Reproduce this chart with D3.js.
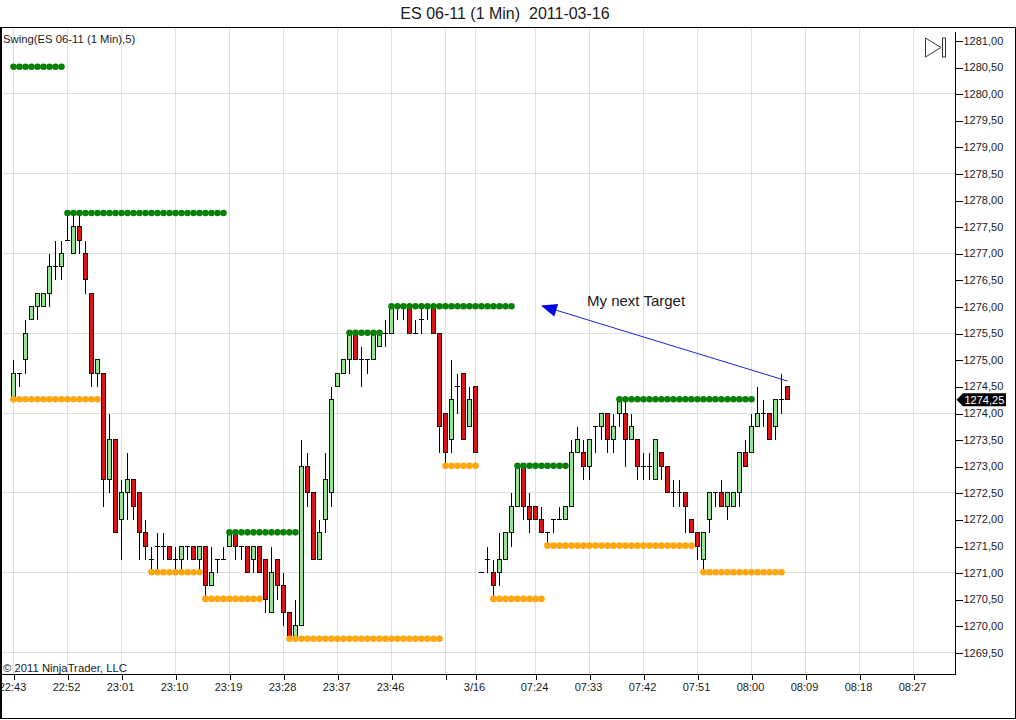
<!DOCTYPE html>
<html><head><meta charset="utf-8">
<script src="https://cdn.jsdelivr.net/npm/d3@7"></script>
<style>
html,body{margin:0;padding:0;background:#fff}
svg{display:block}
text{font-family:"Liberation Sans",Arial,sans-serif;fill:#1a1a1a;white-space:pre}
.axis path{display:none}
</style></head><body>
<script>
const opens=[1274.25,1274.75,1275,1275.75,1276,1276,1276.25,1276.75,1276.75,1277.25,1277,1277.5,1277,1276.25,1274.75,1274.75,1272.75,1273.5,1272,1272.5,1272.75,1272.5,1271.75,1271.25,1271.5,1271.5,1271.5,1271.25,1271.25,1271.5,1271.5,1271.25,1271.5,1270.75,1271.25,1271.25,1271.5,1271.75,1271.5,1271.5,1271.25,1271.5,1271.25,1270.25,1271.25,1270.75,1270.25,1269.75,1270,1273,1272.5,1271.25,1272,1272.5,1274.5,1274.75,1275,1275.5,1275,1275,1275,1275.25,1275.5,1275.5,1276,1276,1276,1275.5,1275.75,1276,1276,1275.5,1274,1273.5,1274.5,1274.75,1273.75,1274.5,1271,1271.25,1271,1271,1271.25,1271.75,1272.25,1273,1272.25,1272.25,1272,1271.75,1272,1272,1272,1272.25,1273.25,1273.25,1273,1273.75,1273.75,1274,1273.5,1274,1274,1273.5,1273.5,1273,1273,1272.75,1273.25,1273,1272.5,1272.5,1272.5,1272,1271.75,1271.25,1272,1272.5,1272.5,1272.25,1272.25,1272.5,1273.25,1273.25,1273.75,1274,1274,1273.75,1274.25,1274.5];
const highs=[1275,1274.75,1275.75,1276,1276.25,1276.25,1277,1277.25,1277.25,1277.75,1277.75,1277.75,1277.25,1276.25,1275,1274.75,1274,1273.5,1272.75,1273.25,1272.75,1272.5,1272,1271.5,1271.75,1271.75,1271.5,1271.5,1271.5,1271.5,1271.5,1271.5,1271.5,1271.5,1271.25,1271.5,1271.75,1271.75,1271.5,1271.5,1271.5,1271.5,1271.25,1271.5,1271.25,1271,1270.25,1270.5,1273.5,1273.25,1272.5,1272,1273.25,1274.5,1274.75,1275,1275.5,1275.5,1275.25,1275,1275.5,1275.5,1275.75,1276,1276,1276,1276,1275.75,1276,1276,1276,1275.5,1274,1275,1274.75,1274.75,1274.5,1274.5,1271,1271.5,1271.25,1271.75,1271.75,1272.5,1273,1273,1272.5,1272.25,1272.25,1271.75,1272,1272.25,1272.25,1273.5,1273.75,1273.5,1273.5,1273.75,1274,1274,1274,1274.25,1274.25,1274,1273.5,1273.25,1273.25,1273.5,1273.25,1273,1272.75,1272.75,1272.5,1272,1271.75,1271.75,1272.5,1272.5,1272.75,1272.5,1272.5,1273.25,1273.5,1274,1274.5,1274.25,1274,1274.25,1274.75,1274.5];
const lows=[1274.25,1274.5,1274.75,1275.75,1275.75,1276,1276,1276.5,1276.5,1277.25,1277,1277,1276.25,1274.5,1274.5,1272.25,1272.5,1271.75,1271.25,1272,1272,1271.25,1271.25,1271,1271,1271.25,1271.25,1271,1271,1271.25,1271.25,1271,1270.5,1270.75,1271,1271.25,1271.5,1271.25,1271.25,1271,1271,1271,1270.25,1270.25,1270.5,1270,1269.75,1269.75,1270,1272.25,1271.25,1271.25,1271.75,1272.25,1274.5,1274.75,1274.75,1275,1274.5,1274.75,1275,1275.25,1275.25,1275.5,1275.75,1275.75,1275.5,1275.5,1275.5,1275.75,1275.5,1273.25,1273,1273.25,1274,1273.5,1273.75,1273.25,1271,1271,1270.5,1270.75,1271.25,1271.5,1272.25,1272,1271.75,1272,1271.75,1271.5,1271.75,1272,1272,1272.25,1273.25,1272.75,1272.75,1273.25,1273.5,1273.25,1273.25,1273.75,1273,1273.5,1272.75,1272.75,1272.75,1272.75,1272.75,1272.5,1272.25,1272.25,1271.75,1271.75,1271.25,1271,1271.75,1272.25,1272.25,1272,1272.25,1272.25,1273,1273.25,1273.75,1273.75,1273.5,1273.5,1274,1274.25];
const closes=[1274.75,1274.75,1275.5,1276,1276.25,1276.25,1276.75,1276.75,1277,1277.25,1277.5,1277.25,1276.5,1274.75,1275,1272.75,1273.5,1271.75,1272.5,1272.75,1272.25,1271.75,1271.5,1271.25,1271.5,1271.5,1271.25,1271.25,1271.5,1271.5,1271.25,1271.5,1270.75,1271,1271.25,1271.25,1271.75,1271.5,1271.5,1271,1271.5,1271,1270.5,1271,1270.75,1270.25,1269.75,1270,1273,1272.5,1271.25,1271.75,1272.75,1274.25,1274.75,1275,1275.5,1275,1275,1275,1275.5,1275.5,1275.5,1276,1276,1276,1275.5,1275.5,1275.75,1276,1275.5,1273.75,1273.25,1274.25,1274.5,1273.5,1274.25,1273.25,1271,1271.25,1270.75,1271.25,1271.75,1272.25,1273,1272.25,1272,1272,1271.75,1271.75,1272,1272,1272.25,1273.25,1273.5,1273,1273.5,1273.75,1274,1273.5,1273.75,1274.25,1273.5,1273.75,1273,1273,1273,1273.5,1273,1272.5,1272.5,1272.5,1272.25,1271.75,1271.5,1271.75,1272.5,1272.5,1272.25,1272.5,1272.5,1273.25,1273,1273.75,1274,1274,1273.5,1274.25,1274.25,1274.25];
// Swing levels: [first bar, last bar, price]
const swingHighs=[[0,8,1280.5],[9,35,1277.75],[36,47,1271.75],[56,61,1275.5],[63,83,1276],[84,92,1273],[101,123,1274.25]];
const swingLows=[[0,14,1274.25],[23,31,1271],[32,41,1270.5],[46,71,1269.75],[72,77,1273],[80,88,1270.5],[89,113,1271.5],[115,128,1271]];
const priceTicks=[1281,1280.5,1280,1279.5,1279,1278.5,1278,1277.5,1277,1276.5,1276,1275.5,1275,1274.5,1274,1273.5,1273,1272.5,1272,1271.5,1271,1270.5,1270,1269.5];
const gridPrices=[1280,1278.5,1277,1275.5,1274,1272.5,1271,1269.5];
const timeTickBars=[0,9,18,27,36,45,54,63,72,77,87,96,105,114,123,132,141,150];
const timeTickLabels=["22:43","22:52","23:01","23:10","23:19","23:28","23:37","23:46","","3/16","07:24","07:33","07:42","07:51","08:00","08:09","08:18","08:27"];
const title="ES 06-11 (1 Min)  2011-03-16", indicator="Swing(ES 06-11 (1 Min),5)", copyright="© 2011 NinjaTrader, LLC";
const note="My next Target", lastPrice=1274.25;
const arrowFrom=[129,1274.6], arrowTo=[87.9,1276.02];

const W=1016,H=720, plotRight=955.5, plotBottom=674, plotTop=27;
const x=d3.scaleLinear().domain([0,150]).range([13.5,913.5]);
const y=d3.scaleLinear().domain([1281,1269.5]).range([40.5,652.5]);
const py=p=>Math.floor(y(p))+0.5;
const comma=d=>d.toFixed(2).replace(".",",");
const svg=d3.select("body").append("svg").attr("width",W).attr("height",H);
svg.append("rect").attr("width",W).attr("height",H).attr("fill","#fff");

const defs=svg.append("defs");
defs.append("clipPath").attr("id","plot").append("rect").attr("x",1).attr("y",plotTop).attr("width",plotRight-1).attr("height",plotBottom-plotTop);
defs.append("clipPath").attr("id","frame").append("rect").attr("x",1).attr("y",plotTop).attr("width",W-2).attr("height",H-plotTop);

// grid
const grid=svg.append("g").attr("stroke","#dfdfe3").attr("stroke-width",1).attr("shape-rendering","crispEdges");
grid.selectAll("line.v").data(timeTickBars.filter(b=>x(b)<plotRight)).join("line").attr("class","v")
 .attr("x1",d=>x(d)).attr("x2",d=>x(d)).attr("y1",plotTop).attr("y2",plotBottom);
grid.selectAll("line.h").data(gridPrices).join("line").attr("class","h")
 .attr("x1",1).attr("x2",plotRight).attr("y1",py).attr("y2",py);

// candles
const bars=d3.range(opens.length);
const g=svg.append("g").attr("clip-path","url(#plot)").attr("shape-rendering","crispEdges");
g.selectAll("line.wick").data(bars).join("line").attr("class","wick")
 .attr("x1",x).attr("x2",x).attr("y1",i=>py(highs[i])).attr("y2",i=>py(lows[i])).attr("stroke","#000");
g.selectAll("rect.body").data(bars.filter(i=>opens[i]!==closes[i])).join("rect").attr("class","body")
 .attr("x",i=>x(i)-2).attr("width",4)
 .attr("y",i=>py(Math.max(opens[i],closes[i])))
 .attr("height",i=>py(Math.min(opens[i],closes[i]))-py(Math.max(opens[i],closes[i])))
 .attr("fill",i=>closes[i]>opens[i]?"#98e298":"#dc1418").attr("stroke","#0a1a0a");
g.selectAll("line.doji").data(bars.filter(i=>opens[i]===closes[i])).join("line").attr("class","doji")
 .attr("x1",i=>x(i)-2.5).attr("x2",i=>x(i)+2.5).attr("y1",i=>py(opens[i])).attr("y2",i=>py(opens[i])).attr("stroke","#000");

// swing dots
function dots(levels,color){
  const pts=levels.flatMap(([a,b,p])=>d3.range(a,b+1).map(i=>[i,p]));
  svg.append("g").attr("clip-path","url(#plot)").selectAll("circle").data(pts).join("circle")
   .attr("cx",d=>x(d[0])).attr("cy",d=>y(d[1])-0.4).attr("r",3.3).attr("fill",color);
}
dots(swingHighs,"#078207");
dots(swingLows,"#ffa60a");

// arrow
const tail=[x(arrowFrom[0]),y(arrowFrom[1])], tip=[x(arrowTo[0]),y(arrowTo[1])];
const ang=Math.atan2(tail[1]-tip[1],tail[0]-tip[0]), len=16, hw=6.5;
const bx=tip[0]+len*Math.cos(ang), by=tip[1]+len*Math.sin(ang);
svg.append("line").attr("x1",tail[0]).attr("y1",tail[1]).attr("x2",bx).attr("y2",by).attr("stroke","#1f1fe0").attr("stroke-width",1);
svg.append("polygon").attr("points",[tip,[bx-hw*Math.sin(ang),by+hw*Math.cos(ang)],[bx+hw*Math.sin(ang),by-hw*Math.cos(ang)]].map(p=>p.join(",")).join(" ")).attr("fill","#0000e6");
svg.append("text").attr("x",587).attr("y",306).attr("font-size",15).text(note);

// y axis
const yAxis=d3.axisRight(y).tickValues(priceTicks).tickFormat(comma).tickSize(7).tickPadding(1);
const ya=svg.append("g").attr("class","axis").attr("transform",`translate(${plotRight},0)`).call(yAxis);
ya.selectAll("line").attr("stroke","#000").attr("shape-rendering","crispEdges").attr("transform",d=>`translate(0,${py(d)-y(d)})`);
ya.selectAll("text").attr("font-size",11).attr("fill","#1a1a1a").attr("font-family",'"Liberation Sans",Arial,sans-serif');

// x axis
const xAxis=d3.axisBottom(x).tickValues(timeTickBars).tickFormat((d,i)=>timeTickLabels[i]).tickSize(6).tickPadding(3);
const xWrap=svg.append("g").attr("clip-path","url(#frame)");
const xa=xWrap.append("g").attr("class","axis").attr("transform",`translate(0,${plotBottom})`).call(xAxis);
xa.selectAll("line").attr("stroke","#000").attr("shape-rendering","crispEdges");
xa.selectAll("text").attr("font-size",11).attr("dx",-1.5).attr("fill","#1a1a1a").attr("font-family",'"Liberation Sans",Arial,sans-serif');

// frame
const fr=svg.append("g").attr("stroke","#000").attr("shape-rendering","crispEdges");
fr.append("line").attr("x1",0).attr("x2",W).attr("y1",27.5).attr("y2",27.5);
fr.append("line").attr("x1",0.5).attr("x2",0.5).attr("y1",27).attr("y2",719);
fr.append("line").attr("x1",1.5).attr("x2",1.5).attr("y1",27).attr("y2",719);
fr.append("line").attr("x1",W-0.5).attr("x2",W-0.5).attr("y1",27).attr("y2",719);
fr.append("line").attr("x1",0).attr("x2",W).attr("y1",718.5).attr("y2",718.5);
fr.append("line").attr("x1",0).attr("x2",plotRight).attr("y1",plotBottom).attr("y2",plotBottom);
fr.append("line").attr("x1",plotRight).attr("x2",plotRight).attr("y1",32).attr("y2",plotBottom);

// last price marker
const ly=y(lastPrice);
svg.append("polygon").attr("points",[[956.5,ly],[963,ly-6.5],[1006,ly-6.5],[1006,ly+6.5],[963,ly+6.5]].map(p=>p.join(",")).join(" ")).attr("fill","#000");
svg.append("text").attr("x",964.5).attr("y",ly+4).attr("font-size",11).style("fill","#fff").text(comma(lastPrice));

// labels
svg.append("text").attr("x",505).attr("y",18.5).attr("text-anchor","middle").attr("font-size",16).text(title);
svg.append("text").attr("x",3).attr("y",43).attr("font-size",11.3).text(indicator);
svg.append("text").attr("x",3).attr("y",672).attr("font-size",11.3).text(copyright);

// scroll icon
svg.append("polygon").attr("points","925.5,38 925.5,57 941,47.5").attr("fill","#fff").attr("stroke","#333");
svg.append("rect").attr("x",942.5).attr("y",38).attr("width",3).attr("height",19).attr("fill","#fff").attr("stroke","#333");
</script>
</body></html>
